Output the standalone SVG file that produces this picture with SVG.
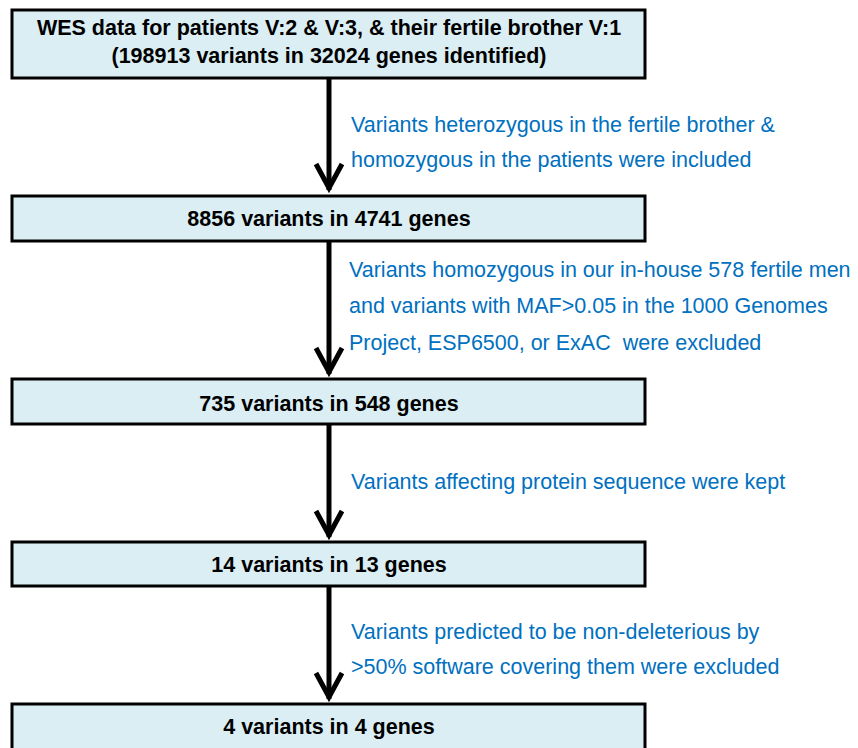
<svg xmlns="http://www.w3.org/2000/svg" width="858" height="748" viewBox="0 0 858 748">
<style>
.box{fill:#DAEEF3;stroke:#000;stroke-width:3}
.bt{font-family:"Liberation Sans",Arial,sans-serif;font-weight:bold;font-size:21.5px;fill:#000;text-anchor:middle}
.lt{font-family:"Liberation Sans",Arial,sans-serif;font-size:21.5px;fill:#0070C0}
.shaft{stroke:#000;stroke-width:5;fill:none}
.head{stroke:#000;stroke-width:5;fill:none;stroke-linejoin:miter;stroke-linecap:butt}
</style>
<rect width="858" height="748" fill="#fff"/>
<g id="connectors">
<line class="shaft" x1="329" y1="78" x2="329" y2="190"/>
<polyline class="head" points="316,164 329,188 342,164"/>
<line class="shaft" x1="329" y1="241" x2="329" y2="374"/>
<polyline class="head" points="316,348 329,372 342,348"/>
<line class="shaft" x1="329" y1="424" x2="329" y2="537"/>
<polyline class="head" points="316,511 329,535 342,511"/>
<line class="shaft" x1="329" y1="586" x2="329" y2="699"/>
<polyline class="head" points="316,673 329,697 342,673"/>
<text class="lt" x="351" y="132">Variants heterozygous in the fertile brother &amp;</text>
<text class="lt" x="351" y="167">homozygous in the patients were included</text>
<text class="lt" x="349" y="277">Variants homozygous in our in-house 578 fertile men</text>
<text class="lt" x="349" y="313">and variants with MAF&gt;0.05 in the 1000 Genomes</text>
<text class="lt" x="349" y="350" xml:space="preserve">Project, ESP6500, or ExAC  were excluded</text>
<text class="lt" x="351" y="489">Variants affecting protein sequence were kept</text>
<text class="lt" x="351" y="639">Variants predicted to be non-deleterious by</text>
<text class="lt" x="351" y="674">&gt;50% software covering them were excluded</text>
</g>
<g id="n1">
<rect class="box" x="12" y="10" width="633" height="68"/>
<text class="bt" x="329" y="35">WES data for patients V:2 &amp; V:3, &amp; their fertile brother V:1</text>
<text class="bt" x="329" y="63">(198913 variants in 32024 genes identified)</text>
</g>
<g id="n2">
<rect class="box" x="12" y="196" width="633" height="45"/>
<text class="bt" x="329" y="226">8856 variants in 4741 genes</text>
</g>
<g id="n3">
<rect class="box" x="12" y="379" width="633" height="45"/>
<text class="bt" x="329" y="411">735 variants in 548 genes</text>
</g>
<g id="n4">
<rect class="box" x="12" y="542" width="633" height="44"/>
<text class="bt" x="329" y="572">14 variants in 13 genes</text>
</g>
<g id="n5">
<rect class="box" x="12" y="704" width="633" height="50"/>
<text class="bt" x="329" y="734">4 variants in 4 genes</text>
</g>
</svg>
